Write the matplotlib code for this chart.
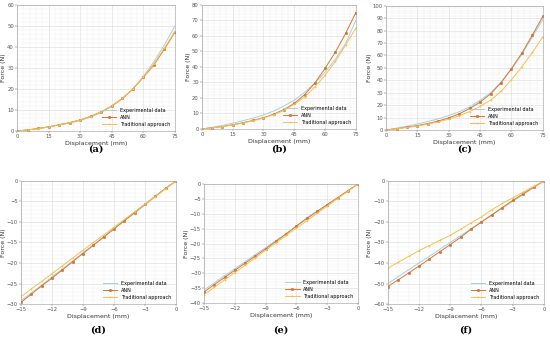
import numpy as np
import matplotlib
matplotlib.use('Agg')
import matplotlib.pyplot as plt
from matplotlib.ticker import AutoMinorLocator

# displacement values
x_pos = [0, 5, 10, 15, 20, 25, 30, 35, 40, 45, 50, 55, 60, 65, 70, 75]
x_neg = [-15, -14, -13, -12, -11, -10, -9, -8, -7, -6, -5, -4, -3, -2, -1, 0]

# (a)
exp_a = [0, 0.5, 1.1, 1.9, 2.8, 3.8, 5.0, 6.6, 8.8, 11.7, 15.3, 20, 26, 33, 41, 50]
ann_a = [0, 0.5, 1.2, 2.0, 3.0, 4.0, 5.3, 7.0, 9.2, 12, 15.5, 20, 25.5, 31.5, 39, 47]
tra_a = [0, 0.5, 1.1, 1.9, 2.9, 3.9, 5.2, 6.9, 9.1, 12, 15.5, 20, 25.7, 32, 39.5, 47.5]
# (b)
exp_b = [0, 1.0, 2.3, 3.7, 5.3, 7.0, 9.0, 11.6, 14.8, 18.5, 23.5, 29.5, 36.5, 45, 55, 70]
ann_b = [0, 0.7, 1.5, 2.7, 4.0, 5.5, 7.3, 9.5, 12.5, 16.5, 22, 29.5, 39, 49.5, 61.5, 75]
tra_b = [0, 0.7, 1.5, 2.6, 3.8, 5.3, 7.0, 9.2, 12, 15.8, 20.5, 27, 34.5, 43.5, 54, 65]
# (c)
exp_c = [0, 1.5, 3.0, 4.8, 6.8, 9.0, 11.6, 14.7, 18.5, 24, 30, 38.5, 49, 61, 75, 89]
ann_c = [0, 1.0, 2.2, 3.5, 5.2, 7.2, 9.8, 13, 17.3, 22.5, 29, 38, 49.5, 62, 76.5, 91.5]
tra_c = [0, 0.9, 2.0, 3.2, 4.7, 6.5, 8.8, 11.5, 14.8, 19, 24, 31, 40.5, 51, 62.5, 75]
# (d)
exp_d = [-29.2, -27.3, -25.4, -23.4, -21.5, -19.5, -17.5, -15.6, -13.6, -11.7, -9.7, -7.8, -5.8, -3.9, -1.9, 0]
ann_d = [-29.6, -27.6, -25.6, -23.7, -21.7, -19.7, -17.7, -15.7, -13.7, -11.7, -9.7, -7.7, -5.7, -3.7, -1.8, 0]
tra_d = [-28.2, -26.3, -24.5, -22.6, -20.7, -18.8, -16.9, -15.0, -13.2, -11.3, -9.4, -7.5, -5.6, -3.8, -1.9, 0]
# (e)
exp_e = [-35.6, -33.2, -30.8, -28.5, -26.1, -23.7, -21.4, -19.0, -16.6, -14.2, -11.8, -9.4, -7.0, -4.7, -2.3, 0]
ann_e = [-36.3, -33.8, -31.4, -29.0, -26.6, -24.2, -21.8, -19.3, -16.8, -14.1, -11.5, -9.2, -6.9, -4.6, -2.3, 0]
tra_e = [-37.2, -34.7, -32.2, -29.8, -27.3, -24.8, -22.3, -19.8, -17.3, -14.8, -12.4, -9.9, -7.4, -4.9, -2.5, 0]
# (f)
exp_f = [-50, -46.7, -43.3, -40, -36.7, -33.3, -30, -26.7, -23.3, -20, -16.7, -13.3, -10, -6.7, -3.3, 0]
ann_f = [-51.5, -48.2, -44.9, -41.5, -38, -34.5, -31, -27.5, -23.5, -20, -16.5, -13, -9.5, -6.3, -3, 0]
tra_f = [-42.5, -39.7, -36.8, -34, -31.5, -29, -26.5, -23.5, -20.5, -17.5, -14, -11, -8.3, -5.5, -2.7, 0]

c_exp = '#a9cfe0'
c_ann = '#d9772e'
c_tra = '#f2c24f'

panels = [
    ('(a)', x_pos, exp_a, ann_a, tra_a, (0, 75), np.arange(0, 76, 15), (0, 60), np.arange(0, 61, 10), [0.031, 0.617, 0.287, 0.368], 0.564),
    ('(b)', x_pos, exp_b, ann_b, tra_b, (0, 75), np.arange(0, 76, 15), (0, 80), np.arange(0, 81, 10), [0.367, 0.623, 0.280, 0.363], 0.564),
    ('(c)', x_pos, exp_c, ann_c, tra_c, (0, 75), np.arange(0, 76, 15), (0, 100), np.arange(0, 101, 10), [0.702, 0.620, 0.285, 0.363], 0.564),
    ('(d)', x_neg, exp_d, ann_d, tra_d, (-15, 0), np.arange(-15, 1, 3), (-30, 0), np.arange(-30, 1, 5), [0.038, 0.111, 0.282, 0.360], 0.036),
    ('(e)', x_neg, exp_e, ann_e, tra_e, (-15, 0), np.arange(-15, 1, 3), (-40, 0), np.arange(-40, 1, 5), [0.371, 0.114, 0.280, 0.348], 0.036),
    ('(f)', x_neg, exp_f, ann_f, tra_f, (-15, 0), np.arange(-15, 1, 3), (-60, 0), np.arange(-60, 1, 10), [0.705, 0.111, 0.284, 0.360], 0.036),
]

fig = plt.figure(figsize=(5.5, 3.42), dpi=100)

for lab, x, ye, ya, yt, xl, xt, yl, yt_ticks, pos, lab_y in panels:
    ax = fig.add_axes(pos)
    ax.plot(x, ye, color=c_exp, lw=0.7, label='Experimental data')
    ax.plot(x, ya, color=c_ann, lw=0.7, marker='o', ms=1.8, mfc=c_ann, mec='#c0603a', mew=0.3, label='ANN')
    ax.plot(x, yt, color=c_tra, lw=0.7, marker='+', ms=2, mew=0.5, label='Traditional approach')
    ax.set_xlim(*xl)
    ax.set_ylim(*yl)
    ax.set_xticks(xt)
    ax.set_yticks(yt_ticks)
    ax.xaxis.set_minor_locator(AutoMinorLocator(5 if xl[1] > 0 else 3))
    ax.yaxis.set_minor_locator(AutoMinorLocator(5))
    ax.grid(True, which='major', color='#d8d8d8', lw=0.4)
    ax.grid(True, which='minor', color='#ececec', lw=0.3)
    ax.set_axisbelow(True)
    ax.tick_params(labelsize=3.8, length=1.2, width=0.3, pad=1, colors='#555555')
    ax.tick_params(which='minor', length=0)
    for s in ax.spines.values():
        s.set_color('#999999')
        s.set_linewidth(0.4)
    ax.set_xlabel('Displacement (mm)', fontsize=4.5, labelpad=1.5, color='#333333')
    ax.set_ylabel('Force (N)', fontsize=4.5, labelpad=0.8, color='#333333')
    ax.legend(loc='lower right', fontsize=3.5, frameon=False, handlelength=3,
              borderaxespad=0.5, labelspacing=0.4)
    # panel letter under the axes
    fig.text(pos[0] + pos[2] / 2, lab_y, lab, ha='center', va='center',
             fontsize=7, family='DejaVu Serif', fontweight='bold')

fig.savefig('out.png', dpi=100)
